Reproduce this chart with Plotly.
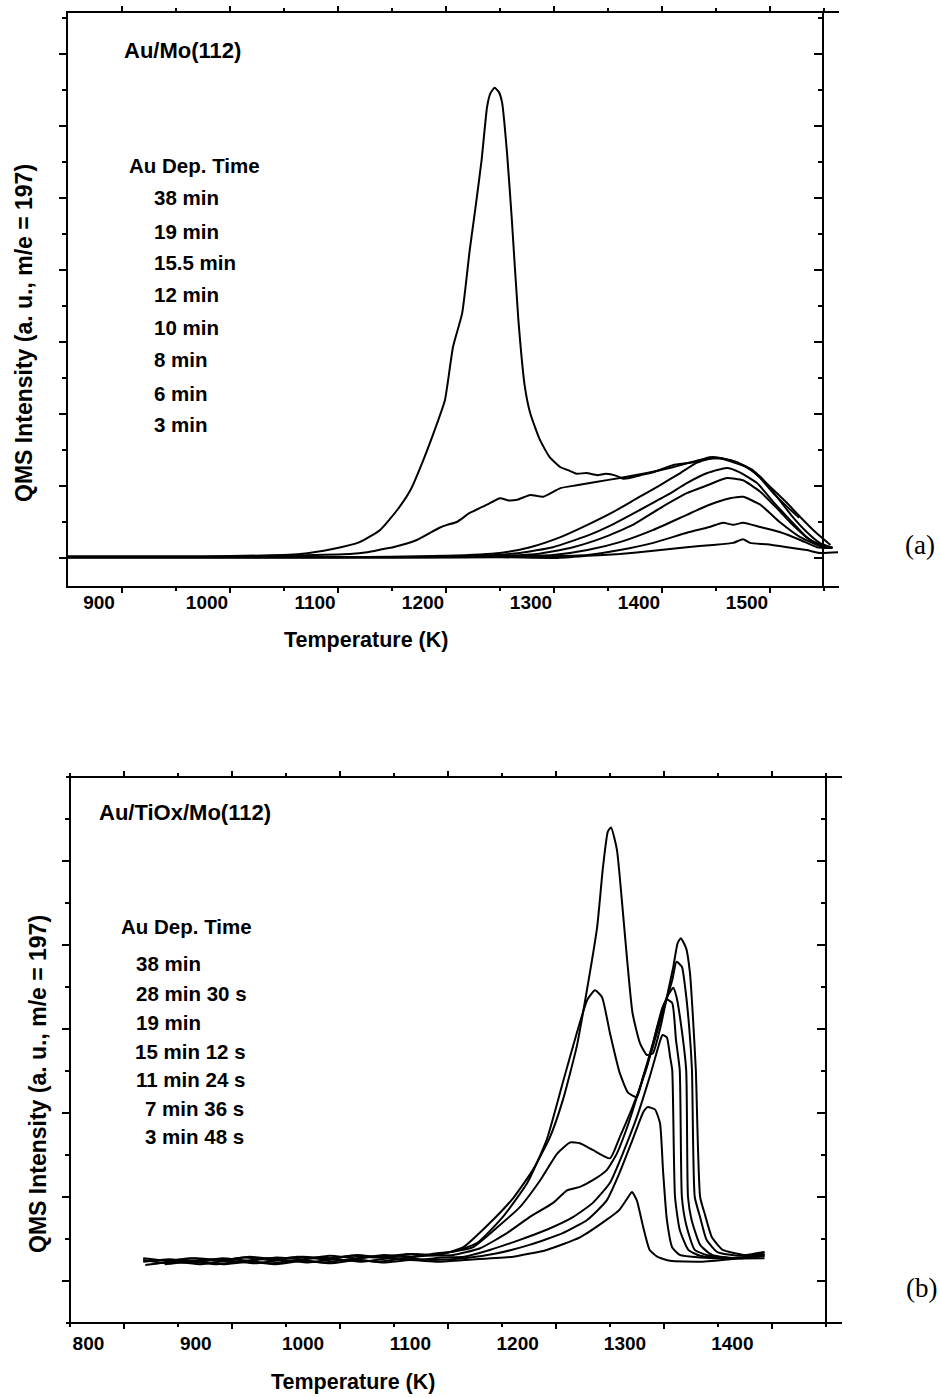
import plotly.graph_objects as go

# ---------------- Panel (a): Au/Mo(112) ----------------
a38_T = [850, 972, 1065, 1095, 1120, 1139, 1155, 1167, 1179, 1192, 1199, 1206.5, 1215, 1222, 1227, 1233, 1238, 1241, 1245, 1249, 1252, 1256.5, 1261, 1267, 1273, 1278, 1287, 1296, 1306, 1313, 1321, 1330, 1340, 1348, 1358, 1364, 1370, 1380, 1392, 1410, 1429, 1444, 1454, 1466, 1479, 1491, 1503, 1516, 1527]
a38_I = [0.02, 0.02, 0.056, 0.125, 0.22, 0.39, 0.67, 0.94, 1.36, 1.88, 2.19, 2.93, 3.40, 4.28, 4.83, 5.53, 6.26, 6.45, 6.53, 6.47, 6.32, 5.63, 4.69, 3.31, 2.38, 2.01, 1.64, 1.40, 1.26, 1.22, 1.17, 1.18, 1.15, 1.17, 1.14, 1.10, 1.11, 1.15, 1.19, 1.29, 1.33, 1.40, 1.39, 1.33, 1.26, 1.11, 0.90, 0.71, 0.56]

a19_T = [850, 1000, 1111, 1127, 1142, 1151, 1173, 1194, 1201, 1210, 1222, 1238, 1250, 1258, 1266, 1278, 1290, 1306, 1321, 1340, 1361, 1386, 1410, 1435, 1454, 1469, 1484, 1500, 1516, 1528, 1542, 1556]
a19_I = [0.02, 0.02, 0.056, 0.08, 0.125, 0.15, 0.25, 0.42, 0.46, 0.50, 0.625, 0.74, 0.83, 0.80, 0.81, 0.875, 0.85, 0.97, 1.01, 1.06, 1.11, 1.18, 1.26, 1.36, 1.39, 1.33, 1.22, 0.99, 0.76, 0.57, 0.36, 0.18]

a155_T = [850, 1100, 1200, 1250, 1278, 1306, 1331, 1355, 1377, 1398, 1417, 1432, 1447, 1463, 1475, 1491, 1506.5, 1521, 1534, 1546, 1556]
a155_I = [0.01, 0.01, 0.03, 0.07, 0.15, 0.29, 0.46, 0.64, 0.83, 1.01, 1.18, 1.32, 1.39, 1.36, 1.29, 1.13, 0.85, 0.57, 0.36, 0.21, 0.15]

a12_T = [850, 1150, 1230, 1268.5, 1299, 1331, 1355, 1380, 1405, 1423, 1442, 1460, 1472, 1488, 1503, 1518.5, 1534, 1549, 1558]
a12_I = [0.01, 0.01, 0.03, 0.07, 0.15, 0.31, 0.47, 0.67, 0.875, 1.04, 1.18, 1.25, 1.19, 1.04, 0.78, 0.53, 0.29, 0.15, 0.14]

a10_T = [850, 1180, 1250, 1284, 1315, 1345, 1373, 1398, 1423, 1442, 1460, 1475, 1491, 1506.5, 1521, 1537, 1553]
a10_I = [0.01, 0.01, 0.03, 0.056, 0.14, 0.28, 0.46, 0.69, 0.90, 1.01, 1.11, 1.08, 0.92, 0.69, 0.46, 0.25, 0.15]

a8_T = [850, 1200, 1260, 1299, 1331, 1361, 1392, 1423, 1444, 1463, 1475, 1491, 1509, 1528, 1546, 1558]
a8_I = [0.01, 0.01, 0.02, 0.04, 0.11, 0.22, 0.39, 0.60, 0.74, 0.83, 0.85, 0.74, 0.50, 0.29, 0.17, 0.15]

a6_T = [850, 1220, 1290, 1331, 1361, 1392, 1423, 1444, 1456.5, 1466, 1475, 1491, 1509, 1528, 1543.5, 1556]
a6_I = [0.01, 0.01, 0.02, 0.04, 0.11, 0.21, 0.35, 0.43, 0.49, 0.46, 0.49, 0.43, 0.36, 0.25, 0.15, 0.14]

a3_T = [850, 1250, 1300, 1331, 1361, 1392, 1423, 1447, 1466, 1475, 1481.5, 1497, 1516, 1534, 1546, 1563]
a3_I = [0.01, 0.01, 0.0, 0.03, 0.056, 0.10, 0.15, 0.18, 0.21, 0.26, 0.21, 0.19, 0.15, 0.11, 0.07, 0.08]

a_labels = ["38 min", "19 min", "15.5 min", "12 min", "10 min", "8 min", "6 min", "3 min"]
a_tickvals = [900, 1000, 1100, 1200, 1300, 1400, 1500]

# ---------------- Panel (b): Au/TiOx/Mo(112) ----------------
b38_T = [851, 875, 900, 925, 950, 975, 1000, 1025, 1050, 1075, 1100, 1125, 1149, 1174, 1196, 1214, 1230, 1242, 1255, 1265, 1274, 1279.5, 1284, 1287, 1292.5, 1297, 1302, 1307, 1314, 1320.5, 1326, 1333, 1339, 1345, 1349, 1352, 1357, 1360.5, 1363.3, 1366, 1370, 1374.5, 1381, 1391, 1402.5, 1415, 1430]
b38_I = [0.27, 0.24, 0.27, 0.25, 0.29, 0.26, 0.29, 0.27, 0.31, 0.28, 0.32, 0.31, 0.40, 0.69, 0.99, 1.32, 1.71, 2.15, 2.79, 3.50, 4.21, 4.93, 5.35, 5.40, 5.13, 4.54, 3.82, 3.19, 2.83, 2.69, 2.71, 3.02, 3.38, 3.74, 4.02, 4.08, 3.96, 3.67, 3.14, 2.51, 1.00, 0.79, 0.52, 0.37, 0.33, 0.30, 0.34]

b28_T = [871, 895, 920, 945, 970, 995, 1020, 1045, 1070, 1095, 1120, 1140, 1162, 1186, 1209, 1227, 1242, 1255, 1265, 1272, 1278.5, 1286, 1295, 1303, 1311, 1317, 1326, 1335, 1344, 1348, 1353, 1356, 1360, 1362.4, 1365, 1370, 1376, 1386, 1407, 1430]
b28_I = [0.23, 0.27, 0.24, 0.28, 0.25, 0.29, 0.26, 0.30, 0.28, 0.32, 0.31, 0.35, 0.45, 0.76, 1.17, 1.68, 2.36, 2.95, 3.35, 3.46, 3.38, 2.95, 2.48, 2.24, 2.19, 2.43, 2.79, 3.19, 3.58, 3.80, 3.74, 3.50, 2.99, 2.51, 1.00, 0.76, 0.49, 0.345, 0.30, 0.345]

b19_T = [851, 875, 900, 925, 950, 975, 1000, 1025, 1050, 1075, 1100, 1125, 1140, 1158, 1181, 1202, 1221, 1237, 1249, 1258, 1270, 1286, 1295, 1307, 1320.5, 1330, 1339, 1345, 1348, 1352, 1357, 1358.7, 1362, 1370, 1381, 1407, 1430]
b19_I = [0.23, 0.26, 0.23, 0.27, 0.24, 0.28, 0.26, 0.30, 0.27, 0.31, 0.29, 0.33, 0.35, 0.40, 0.64, 0.88, 1.20, 1.52, 1.65, 1.64, 1.56, 1.46, 1.71, 2.07, 2.55, 3.02, 3.38, 3.49, 3.38, 3.07, 2.51, 1.00, 0.73, 0.43, 0.31, 0.27, 0.32]

b15_T = [871, 890, 915, 940, 965, 990, 1015, 1040, 1065, 1090, 1115, 1140, 1165, 1190, 1211, 1233, 1246, 1258, 1270, 1283, 1292.5, 1302, 1314, 1326, 1335, 1339, 1344, 1347.5, 1351, 1353, 1357, 1365, 1379, 1407, 1430]
b15_I = [0.25, 0.22, 0.26, 0.23, 0.27, 0.24, 0.28, 0.25, 0.29, 0.27, 0.30, 0.31, 0.39, 0.57, 0.76, 0.93, 1.08, 1.12, 1.20, 1.32, 1.52, 1.83, 2.31, 2.83, 3.26, 3.35, 3.31, 2.87, 2.51, 1.00, 0.67, 0.37, 0.30, 0.27, 0.30]

b11_T = [853, 880, 905, 930, 955, 980, 1005, 1030, 1055, 1080, 1105, 1130, 1150, 1174, 1202, 1227, 1251.5, 1270, 1286, 1298, 1311, 1323, 1333, 1335, 1339, 1342, 1344, 1346.6, 1351, 1359, 1370, 1398, 1430]
b11_I = [0.19, 0.23, 0.20, 0.24, 0.21, 0.25, 0.22, 0.26, 0.23, 0.27, 0.25, 0.28, 0.29, 0.37, 0.49, 0.61, 0.76, 0.93, 1.17, 1.52, 1.95, 2.43, 2.87, 2.93, 2.90, 2.67, 2.51, 1.00, 0.61, 0.37, 0.30, 0.27, 0.27]

b7_T = [871, 895, 920, 945, 970, 995, 1020, 1045, 1070, 1095, 1120, 1150, 1181, 1211, 1242, 1265, 1283, 1295, 1307, 1317, 1321, 1328, 1332.6, 1335.4, 1339, 1344, 1351, 1370, 1400, 1430]
b7_I = [0.20, 0.23, 0.20, 0.24, 0.21, 0.25, 0.22, 0.26, 0.23, 0.27, 0.25, 0.27, 0.33, 0.43, 0.57, 0.73, 0.96, 1.29, 1.68, 2.01, 2.07, 2.04, 1.88, 1.32, 0.73, 0.40, 0.31, 0.28, 0.27, 0.30]

b3_T = [851, 875, 900, 925, 950, 975, 1000, 1025, 1050, 1075, 1100, 1125, 1150, 1196, 1227, 1258, 1283, 1295, 1303, 1306.5, 1311, 1317, 1323, 1330, 1342, 1370, 1398, 1430]
b3_I = [0.25, 0.21, 0.24, 0.20, 0.23, 0.20, 0.24, 0.21, 0.25, 0.22, 0.25, 0.23, 0.25, 0.29, 0.37, 0.52, 0.73, 0.85, 1.00, 1.06, 0.96, 0.64, 0.37, 0.29, 0.24, 0.23, 0.26, 0.31]

b_labels = ["38 min", "28 min 30 s", "19 min", "15 min 12 s", "11 min 24 s", "7 min 36 s", "3 min 48 s"]
b_tickvals = [800, 900, 1000, 1100, 1200, 1300, 1400]

# ---------------- Figure ----------------
W, H = 940, 1397
def X(px):
    return px / W
def Y(py):
    return 1 - py / H

SANS = "Liberation Sans, Arial, sans-serif"
SERIF = "Liberation Serif, Times New Roman, serif"
LW = 2.0

fig = go.Figure()
for T, I in [(a38_T, a38_I), (a19_T, a19_I), (a155_T, a155_I), (a12_T, a12_I),
             (a10_T, a10_I), (a8_T, a8_I), (a6_T, a6_I), (a3_T, a3_I)]:
    fig.add_trace(go.Scatter(x=T, y=I, xaxis="x", yaxis="y", mode="lines",
                             line=dict(color="black", width=LW, shape="spline", smoothing=0.5),
                             hoverinfo="skip"))
for T, I in [(b38_T, b38_I), (b28_T, b28_I), (b19_T, b19_I), (b15_T, b15_I),
             (b11_T, b11_I), (b7_T, b7_I), (b3_T, b3_I)]:
    fig.add_trace(go.Scatter(x=T, y=I, xaxis="x3", yaxis="y3", mode="lines",
                             line=dict(color="black", width=LW, shape="spline", smoothing=0.5),
                             hoverinfo="skip"))

tickfont = dict(family=SANS, size=19, color="black", weight="bold")

# panel a axes
xa_range = [850, 1563.9]
ya_range = [-0.389, 7.569]
# panel b axes
xb_range = [779.1, 1502.2]
yb_range = [-0.488, 5.988]

fig.update_layout(
    width=W, height=H,
    margin=dict(l=0, r=0, t=0, b=0),
    paper_bgcolor="white", plot_bgcolor="white",
    showlegend=False,
    xaxis=dict(domain=[X(68), X(839)], range=xa_range, anchor="y",
               tickmode="array", tickvals=a_tickvals, ticks="outside", ticklen=5, tickwidth=1.5,
               tickcolor="black", tickfont=tickfont, ticklabelshift=-23, ticklabelstandoff=-7,
               minor=dict(tickmode="array", tickvals=[950, 1050, 1150, 1250, 1350, 1450, 1550],
                          ticks="outside", ticklen=3, tickwidth=1.5, tickcolor="black"),
               showline=True, linewidth=2, linecolor="black", mirror="ticks",
               showgrid=False, zeroline=False),
    yaxis=dict(domain=[Y(586), Y(13)], range=ya_range, anchor="x",
               tick0=0, dtick=1, ticks="outside", ticklen=7, tickwidth=1.5, tickcolor="black",
               minor=dict(tick0=0.5, dtick=1, ticks="outside", ticklen=4, tickwidth=1.5, tickcolor="black"),
               showticklabels=False, showline=True, linewidth=2, linecolor="black",
               showgrid=False, zeroline=False),
    yaxis2=dict(overlaying="y", side="right", anchor="free", position=X(823), range=ya_range,
                tick0=0, dtick=1, ticks="inside", ticklen=8, tickwidth=1.5, tickcolor="black",
                minor=dict(tick0=0.5, dtick=1, ticks="inside", ticklen=4, tickwidth=1.5, tickcolor="black"),
                showticklabels=False, showline=True, linewidth=2, linecolor="black",
                showgrid=False, zeroline=False),
    xaxis3=dict(domain=[X(66), X(842)], range=xb_range, anchor="y3",
                tickmode="array", tickvals=b_tickvals, ticks="", tickfont=tickfont,
                ticklabelstandoff=8,
                showline=False, showgrid=False, zeroline=False),
    xaxis4=dict(overlaying="x3", domain=[X(66), X(842)], range=xb_range, anchor="y3", side="bottom",
                tick0=833.1, dtick=100.64, ticks="outside", ticklen=5, tickwidth=1.5, tickcolor="black",
                minor=dict(tick0=883.4, dtick=100.64, ticks="outside", ticklen=3, tickwidth=1.5, tickcolor="black"),
                showticklabels=False, showline=True, linewidth=2, linecolor="black", mirror="ticks",
                showgrid=False, zeroline=False),
    yaxis3=dict(domain=[Y(1322), Y(778)], range=yb_range, anchor="free", position=X(70),
                tick0=0, dtick=1, ticks="outside", ticklen=7, tickwidth=1.5, tickcolor="black",
                minor=dict(tick0=0.5, dtick=1, ticks="outside", ticklen=4, tickwidth=1.5, tickcolor="black"),
                showticklabels=False, showline=True, linewidth=2, linecolor="black",
                showgrid=False, zeroline=False),
    yaxis4=dict(overlaying="y3", side="right", anchor="free", position=X(826), range=yb_range,
                tick0=0, dtick=1, ticks="inside", ticklen=8, tickwidth=1.5, tickcolor="black",
                minor=dict(tick0=0.5, dtick=1, ticks="inside", ticklen=4, tickwidth=1.5, tickcolor="black"),
                showticklabels=False, showline=True, linewidth=2, linecolor="black",
                showgrid=False, zeroline=False),
)

# empty traces so the overlay axes are drawn
fig.add_trace(go.Scatter(x=[None], y=[None], xaxis="x", yaxis="y2", showlegend=False))
fig.add_trace(go.Scatter(x=[None], y=[None], xaxis="x4", yaxis="y4", showlegend=False))

ann = []
def text(px, py, s, size, xanchor="left", family=SANS, bold=True, angle=0):
    ann.append(dict(x=X(px), y=Y(py), xref="paper", yref="paper", text=s, showarrow=False,
                    xanchor=xanchor, yanchor="middle", textangle=angle,
                    font=dict(family=family, size=size, color="black",
                              weight="bold" if bold else "normal")))

# panel a texts
text(122, 50, "Au/Mo(112)", 22)
text(127, 166, "Au Dep. Time", 20.5)
a_ys = [198, 231, 263, 295, 327, 360, 393, 425]
for s, yy in zip(a_labels, a_ys):
    text(152, yy, s, 20.5)
text(365.5, 640, "Temperature (K)", 21.5, xanchor="center")
text(24, 333, "QMS Intensity (a. u., m/e = 197)", 23, xanchor="center", angle=-90)
text(920, 545, "(a)", 27, xanchor="center", family=SERIF, bold=False)

# panel b texts
text(97, 812, "Au/TiOx/Mo(112)", 22)
text(119, 926, "Au Dep. Time", 20.5)
b_x = [134, 134, 134, 133, 134, 143, 143]
b_ys = [963, 993, 1022, 1051, 1079, 1108, 1136]
for s, xx, yy in zip(b_labels, b_x, b_ys):
    text(xx, yy, s, 20.5)
text(352.5, 1382, "Temperature (K)", 21.5, xanchor="center")
text(38, 1084, "QMS Intensity (a. u., m/e = 197)", 23, xanchor="center", angle=-90)
text(921, 1288, "(b)", 27, xanchor="center", family=SERIF, bold=False)

fig.update_layout(annotations=ann)
fig.write_html("out.html")
